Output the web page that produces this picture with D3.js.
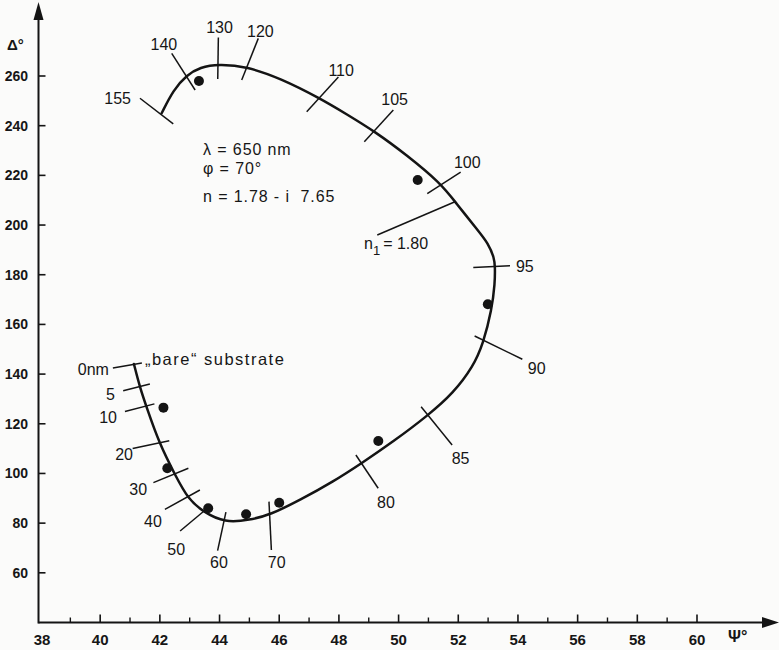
<!DOCTYPE html>
<html>
<head>
<meta charset="utf-8">
<script src="https://cdn.jsdelivr.net/npm/d3@7/dist/d3.min.js"></script>
<style>
  html, body { margin: 0; padding: 0; background: #fbfbfa; }
  svg { display: block; }
  text { fill: #161616; font-family: "Liberation Sans", Arial, sans-serif; }
  .axis-num { font-weight: bold; }
</style>
</head>
<body>
<svg id="chart" width="779" height="650"></svg>
<script>
// Ellipsometric trajectory: Psi / Delta (degrees) as film thickness grows from 0 to 155 nm
const curvePsi   = [41.13, 41.33, 41.55, 41.98, 42.51, 42.95, 43.46, 44.18, 45.02, 45.69, 46.70, 47.81, 48.76, 49.82, 51.00, 51.83, 52.50, 52.84, 53.12, 53.23, 53.23, 53.21, 52.99, 52.70, 51.89, 51.41, 50.27, 49.21, 48.26, 47.37, 46.03, 44.92, 43.96, 43.35, 42.90, 42.45, 42.06];
const curveDelta = [144.1, 134.7, 126.8, 112.1, 99.4, 89.6, 84.5, 80.1, 81.3, 83.3, 89.3, 96.7, 104.1, 112.8, 123.5, 132.3, 143.0, 152.4, 165.8, 176.6, 183.2, 186.7, 192.8, 197.2, 209.4, 216.8, 228.2, 237.6, 244.6, 251.0, 259.1, 263.8, 264.8, 263.5, 260.4, 254.4, 245.0];

// Thickness markers along the trajectory (nm)
const markerLabels = ["0nm", "5", "10", "20", "30", "40", "50", "60", "70", "80", "85", "90", "95", "100", "105", "110", "120", "130", "140", "155"];
const markerPsi    = [41.13, 41.33, 41.55, 41.98, 42.51, 42.95, 43.46, 44.18, 45.69, 48.76, 51.00, 52.84, 53.23, 51.41, 49.21, 47.37, 44.92, 43.96, 42.90, 42.06];
const markerDelta  = [144.1, 134.7, 126.8, 112.1, 99.4, 89.6, 84.5, 80.1, 83.3, 104.1, 123.5, 152.4, 183.2, 216.8, 237.6, 251.0, 263.8, 264.8, 260.4, 245.0];

// Measured values
const measuredPsi   = [43.31, 50.64, 52.99, 49.32, 46.00, 44.89, 43.62, 42.25, 42.12];
const measuredDelta = [258.0, 218.1, 168.1, 113.1, 88.2, 83.6, 86.0, 102.1, 126.5];

// Point where the film index reaches n1
const n1Psi = 51.89, n1Delta = 209.4;

// Axis ticks
const psiMajorTicks = [40, 42, 44, 46, 48, 50, 52, 54, 56, 58, 60];
const psiMinorTicks = [39, 41, 43, 45, 47, 49, 51, 53, 55, 57, 59];
const psiTickLabels = ["38", "40", "42", "44", "46", "48", "50", "52", "54", "56", "58", "60"];
const deltaTicks = [60, 80, 100, 120, 140, 160, 180, 200, 220, 240, 260];

// Tick-mark geometry around each marker: [x1, y1, x2, y2] in px relative to the curve point
const markerTickGeom = [
  [-21, 4, 8, -1], [-16.7, 3.4, 10, -3.3], [-21.5, 4.7, 8, -3], [-26.6, 5, 10, -2.6],
  [-21.7, 7.7, 13.3, -6.7], [-23.3, 10, 11.7, -9.3], [-23.3, 19, 3, -3], [1, -10.7, -7.3, 27.7],
  [-1, -13.3, 1.4, 35], [-5.7, -8.3, 16.6, 25], [-7.3, -8.3, 23.7, 30], [-8.7, -7.3, 39, 16],
  [-21.7, 0.6, 15, -1], [-13.4, 10.3, 20, -11.3], [-10.7, 10, 18.3, -21.7], [-13.4, 13.4, 18.3, -21.3],
  [-5.3, 13.5, 11.3, -28.2], [-0.6, 15, 0, -26.6], [-15, -21.7, 8.4, 15], [-21.7, -15, 11.6, 10.7]
];
// Label placement relative to the curve point: [dx, dy, anchor]
const markerLabelGeom = [
  [-25, 11, "end"], [-25, 12.7, "end"], [-29.5, 16, "end"], [-26.3, 16.7, "end"],
  [-28, 20, "end"], [-26.3, 27.7, "end"], [-18.3, 43, "end"], [-6, 45, "middle"],
  [6.7, 53, "middle"], [24.3, 44.7, "middle"], [32.2, 48.7, "middle"], [53.3, 31, "middle"],
  [21, 5.3, "start"], [13.3, -15, "start"], [6.3, -26.7, "start"], [8.3, -22.3, "start"],
  [0, -29.5, "start"], [1.2, -31.3, "middle"], [-22.8, -25, "middle"], [-30.7, -9.3, "end"]
];

const svg = d3.select("#chart");
const ink = "#141414";

const x = d3.scaleLinear().domain([38, 60]).range([40.5, 697]);
const y = d3.scaleLinear().domain([40, 260]).range([622.5, 76]);

const axisX0 = 38.5, axisY0 = y(40);

// ---- axes ----
const axes = svg.append("g").attr("stroke", ink).attr("fill", "none");
axes.append("line").attr("x1", axisX0).attr("x2", 766).attr("y1", axisY0).attr("y2", axisY0).attr("stroke-width", 2);
axes.append("line").attr("x1", axisX0).attr("x2", axisX0).attr("y1", axisY0 + 1).attr("y2", 12).attr("stroke-width", 2);
svg.append("path").attr("fill", ink)
  .attr("d", `M779,${axisY0} L762,${axisY0 - 5.5} L762,${axisY0 + 5.5} Z`);
svg.append("path").attr("fill", ink)
  .attr("d", `M${axisX0},2 L${axisX0 - 5},20 L${axisX0 + 5},20 Z`);

axes.selectAll(".xmaj").data(psiMajorTicks).enter().append("line")
  .attr("x1", d => x(d)).attr("x2", d => x(d))
  .attr("y1", axisY0).attr("y2", axisY0 - 8).attr("stroke-width", 1.6);
axes.selectAll(".xmin").data(psiMinorTicks).enter().append("line")
  .attr("x1", d => x(d)).attr("x2", d => x(d))
  .attr("y1", axisY0).attr("y2", axisY0 - 5).attr("stroke-width", 1.4);
axes.selectAll(".ytk").data(deltaTicks).enter().append("line")
  .attr("x1", axisX0).attr("x2", axisX0 + 7)
  .attr("y1", d => y(d)).attr("y2", d => y(d)).attr("stroke-width", 1.6);

svg.selectAll(".xlab").data(psiTickLabels).enter().append("text")
  .attr("class", "axis-num")
  .attr("x", d => x(+d) + (d === "38" ? 1.5 : 0)).attr("y", 645)
  .attr("text-anchor", "middle").attr("font-size", 15)
  .text(d => d);
svg.selectAll(".ylab").data(deltaTicks).enter().append("text")
  .attr("class", "axis-num")
  .attr("x", 28).attr("y", d => y(d) + 5)
  .attr("text-anchor", "end").attr("font-size", 14)
  .text(d => d);

svg.append("text").attr("class", "axis-num").attr("x", 7).attr("y", 50)
  .attr("font-size", 15).text("Δ°");
svg.append("text").attr("class", "axis-num").attr("x", 728).attr("y", 642)
  .attr("font-size", 16).text("Ψ°");

// ---- trajectory (smooth B-spline through the traced points) ----
const pts = curvePsi.map((p, i) => [x(p), y(curveDelta[i])]);
svg.append("path")
  .attr("d", d3.line().curve(d3.curveBasis)(pts))
  .attr("fill", "none").attr("stroke", ink).attr("stroke-width", 2.5)
  .attr("stroke-linejoin", "round").attr("stroke-linecap", "round");

// ---- thickness markers ----
const mk = svg.append("g");
markerLabels.forEach((lab, i) => {
  const cx = x(markerPsi[i]), cy = y(markerDelta[i]);
  const g = markerTickGeom[i];
  mk.append("line")
    .attr("x1", cx + g[0]).attr("y1", cy + g[1])
    .attr("x2", cx + g[2]).attr("y2", cy + g[3])
    .attr("stroke", ink).attr("stroke-width", 1.5);
  const l = markerLabelGeom[i];
  mk.append("text")
    .attr("x", cx + l[0]).attr("y", cy + l[1])
    .attr("text-anchor", l[2]).attr("font-size", 16)
    .text(lab);
});

// "bare" substrate note beside the 0 nm end
svg.append("text")
  .attr("x", x(markerPsi[0]) + 11).attr("y", y(markerDelta[0]) + 1)
  .attr("font-size", 16.5).attr("letter-spacing", 1.5)
  .text("„bare“ substrate");

// n1 leader and label
const n1x = x(n1Psi), n1y = y(n1Delta);
svg.append("line")
  .attr("x1", n1x).attr("y1", n1y).attr("x2", n1x - 77.7).attr("y2", n1y + 33.3)
  .attr("stroke", ink).attr("stroke-width", 1.5);
const n1t = svg.append("text").attr("x", n1x - 91).attr("y", n1y + 47.3).attr("font-size", 16);
n1t.append("tspan").text("n");
n1t.append("tspan").attr("dy", 6).attr("font-size", 13).text("1");
n1t.append("tspan").attr("dy", -6).attr("dx", 3).text("=  1.80");

// ---- measured points ----
svg.append("g").selectAll("circle").data(measuredPsi).enter().append("circle")
  .attr("cx", d => x(d)).attr("cy", (d, i) => y(measuredDelta[i]))
  .attr("r", 5).attr("fill", ink);

// ---- optical constants ----
const info = svg.append("g").attr("font-size", 16).attr("letter-spacing", 0.9);
info.append("text").attr("x", 203).attr("y", 155).text("λ = 650 nm");
info.append("text").attr("x", 203).attr("y", 174).text("φ = 70°");
info.append("text").attr("x", 203).attr("y", 202).attr("xml:space", "preserve").text("n = 1.78 - i  7.65");
</script>
</body>
</html>
